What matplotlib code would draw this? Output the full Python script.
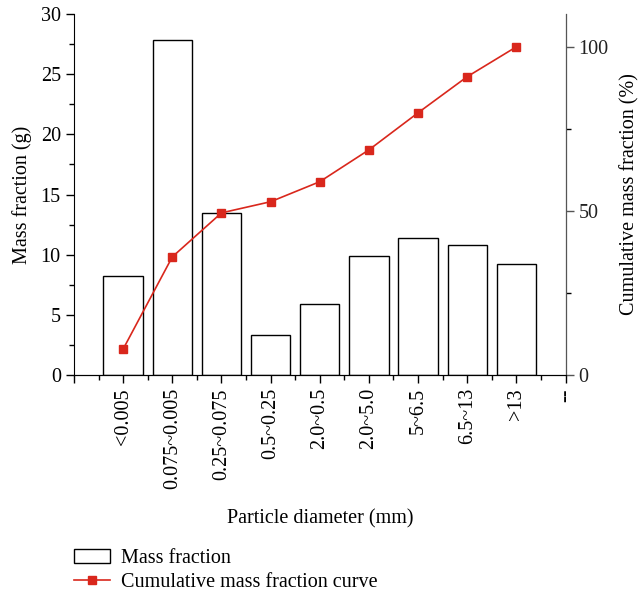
import numpy as np
import matplotlib
matplotlib.use('Agg')
from matplotlib import pyplot as plt
from matplotlib.ticker import MultipleLocator, FixedLocator

plt.rcParams['font.family'] = ['Liberation Serif', 'DejaVu Serif']
plt.rcParams['font.size'] = 14.5

categories = ['<0.005', '0.075~0.005', '0.25~0.075', '0.5~0.25', '2.0~0.5',
              '2.0~5.0', '5~6.5', '6.5~13', '>13']
mass = [8.2, 27.8, 13.5, 3.3, 5.9, 9.9, 11.4, 10.8, 9.2]
cumulative = [7.9, 36.0, 49.4, 52.8, 58.9, 68.6, 79.9, 90.9, 100.0]

red = '#d9271c'
x = np.arange(1, len(categories) + 1)

fig = plt.figure(figsize=(6.39, 5.96), dpi=100)
ax = fig.add_axes([0.1158, 0.3708, 0.7692, 0.6057])
ax2 = ax.twinx()

bars = ax.bar(x, mass, width=0.8, facecolor='white', edgecolor='black',
              linewidth=1.0, label='Mass fraction', zorder=2)
line, = ax2.plot(x, cumulative, '-s', color=red, markersize=6, linewidth=1.2,
                 label='Cumulative mass fraction curve')

ax.set_xlim(0, 10)
ax.set_ylim(0, 30)
ax2.set_ylim(0, 110)

ax.xaxis.set_major_locator(FixedLocator(range(0, 11)))
ax.set_xticklabels([''] + categories + ['--'], rotation=90)
ax.xaxis.set_minor_locator(MultipleLocator(0.5))
ax.yaxis.set_major_locator(MultipleLocator(5))
ax.yaxis.set_minor_locator(MultipleLocator(2.5))
ax2.yaxis.set_major_locator(FixedLocator([0, 50, 100]))
ax2.yaxis.set_minor_locator(FixedLocator([25, 75]))

for a in (ax, ax2):
    a.spines['top'].set_visible(False)
    a.tick_params(which='major', length=6, width=1, direction='out')
    a.tick_params(which='minor', length=3.5, width=1, direction='out')
ax2.spines['right'].set_color('#555555')
ax2.tick_params(axis='y', colors='#555555', labelcolor='#222222')
ax2.spines['left'].set_visible(False)

ax.set_ylabel('Mass fraction (g)', labelpad=6)
ax2.set_ylabel('Cumulative mass fraction (%)', labelpad=8)
ax.set_xlabel('Particle diameter (mm)', labelpad=14)

fig.legend(handles=[bars, line], loc='upper left',
           bbox_to_anchor=(0.103, 0.093), frameon=False,
           handlelength=1.8, handletextpad=0.55, labelspacing=0.25,
           borderaxespad=0)

fig.savefig('out.png', dpi=100)
